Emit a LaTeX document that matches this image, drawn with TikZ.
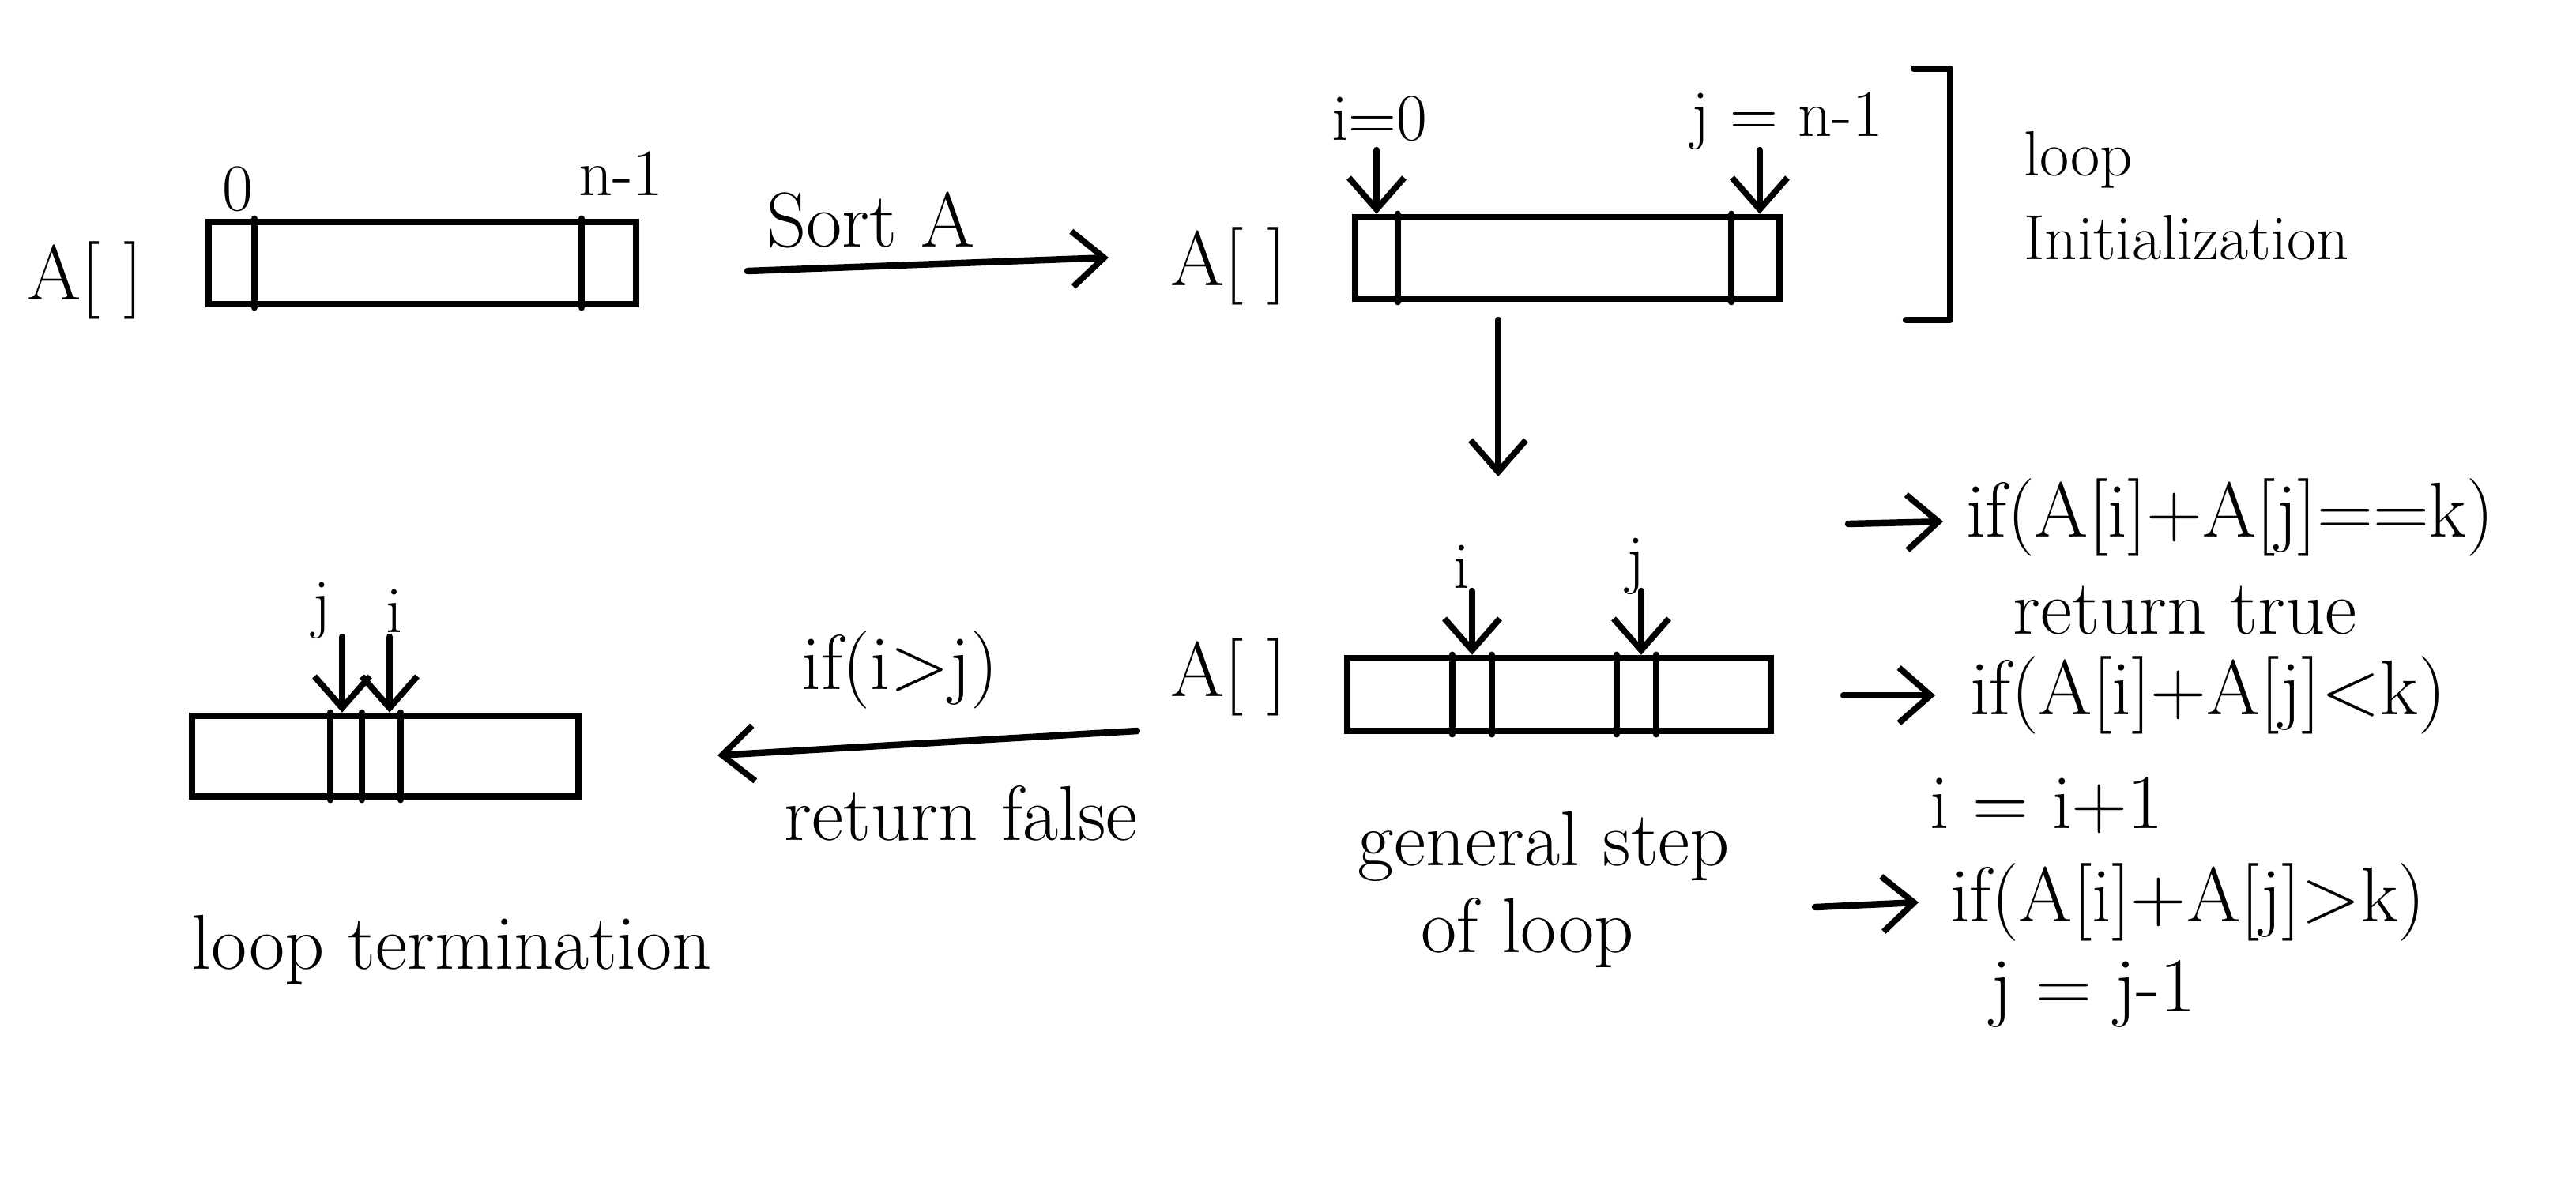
\documentclass[tikz,border=0pt]{standalone}
\usepackage{fontspec}
\usetikzlibrary{arrows.meta,calc}
\begin{document}
\begin{tikzpicture}[
  x=1cm,y=1cm,
  ink/.style={line width=2.4pt, line cap=round, line join=round},
  arrbox/.style={draw, line width=2.4pt, rectangle, inner sep=0pt},
  txt/.style={font=\fontsize{28}{34}\selectfont, inner sep=1pt},
  lbl/.style={font=\fontsize{24}{28}\selectfont, inner sep=1pt},
  small/.style={font=\fontsize{23}{27}\selectfont, inner sep=1pt},
  arr/.style={ink, -{Straight Barb[length=4mm,width=7mm,line width=2.2pt]}},
]
\useasboundingbox (0,0) rectangle (32.6,-15);

% ---------- array 1 ----------
\node[txt] (A1) at (1.08,-3.55) {A[\hspace{0.3em}]};
\node[arrbox, minimum width=5.41cm, minimum height=1.04cm] (a1) at (5.345,-3.33) {};
\draw[ink] ($(a1.north west)+(0.62,0)$) -- ($(a1.south west)+(0.62,0)$);
\draw[ink] ($(a1.north east)+(-0.73,0)$) -- ($(a1.south east)+(-0.73,0)$);
\node[lbl] (z0) at (3.01,-2.39) {0};
\node[lbl] (n1) at (7.86,-2.20) {n-1};

% ---------- sort arrow ----------
\node[txt] (A2) at (15.55,-3.37) {A[\hspace{0.3em}]};
\coordinate (s1) at (9.46,-3.43);
\coordinate (s2) at (14.03,-3.26);
\draw[arr] (s1) -- (s2);
\node[txt] (sortlbl) at (11.02,-2.78) {Sort A};

% ---------- array 2 ----------
\node[arrbox, minimum width=5.37cm, minimum height=1.03cm] (a2) at (19.835,-3.265) {};
\draw[ink] ($(a2.north west)+(0.58,0)$) -- ($(a2.south west)+(0.58,0)$);
\draw[ink] ($(a2.north east)+(-0.65,0)$) -- ($(a2.south east)+(-0.65,0)$);
\node[lbl] (i0) at (17.46,-1.50) {i=0};
\node[lbl] (jn) at (22.62,-1.53) {j = n-1};
\coordinate (pi0) at (17.42,-1.90);
\coordinate (pjn) at (22.27,-1.90);
\draw[arr] (pi0) -- (pi0 |- a2.north);
\draw[arr] (pjn) -- (pjn |- a2.north);

% bracket and label
\coordinate (b1) at (24.22,-0.87);
\coordinate (b2) at (24.68,-0.87);
\coordinate (b3) at (24.68,-4.05);
\coordinate (b4) at (24.12,-4.05);
\draw[ink] (b1) -- (b2) -- (b3) -- (b4);
\node[small, anchor=west] (loopl) at (25.57,-2.02) {loop};
\node[small, anchor=west] (initl) at (25.57,-3.01) {Initialization};

% down arrow
\coordinate (d1) at (18.96,-4.05);
\coordinate (d2) at (18.96,-6.03);
\draw[arr] (d1) -- (d2);

% ---------- array 3 (general step) ----------
\node[txt] (A3) at (15.55,-8.57) {A[\hspace{0.3em}]};
\node[arrbox, minimum width=5.36cm, minimum height=0.92cm] (a3) at (19.73,-8.79) {};
\foreach \o in {1.37,1.87,3.45,3.95}
  \draw[ink] ($(a3.north west)+(\o,0)$) -- ($(a3.south west)+(\o,0)$);
\node[lbl] (gi) at (18.50,-7.17) {i};
\node[lbl] (gj) at (20.70,-7.17) {j};
\coordinate (pgi) at (18.63,-7.48);
\coordinate (pgj) at (20.77,-7.48);
\draw[arr] (pgi) -- (pgi |- a3.north);
\draw[arr] (pgj) -- (pgj |- a3.north);
\node[txt] (gs1) at (19.54,-10.71) {general step};
\node[txt] (gs2) at (19.33,-11.81) {of loop};

% ---------- right side conditions ----------
\node[txt, anchor=west] (c1) at (24.84,-6.55) {if(A[i]+A[j]==k)};
\draw[arr] ([xshift=-1.45cm,yshift=-0.08cm]c1.west) -- ([xshift=-0.25cm,yshift=-0.05cm]c1.west);
\node[txt] (rt) at (27.65,-7.73) {return true};

\node[txt, anchor=west] (c2) at (24.89,-8.80) {if(A[i]+A[j]<k)};
\draw[arr] ([xshift=-1.56cm]c2.west) -- ([xshift=-0.40cm]c2.west);
\node[txt] (ii) at (25.90,-10.19) {i = i+1};

\node[txt, anchor=west] (c3) at (24.64,-11.42) {if(A[i]+A[j]>k)};
\draw[arr] ([xshift=-1.67cm,yshift=-0.06cm]c3.west) -- ([xshift=-0.36cm]c3.west);
\node[txt] (jj) at (26.49,-12.58) {j = j-1};

% ---------- termination ----------
\coordinate (l1) at (14.39,-9.25);
\coordinate (l2) at (9.08,-9.56);
\draw[arr] (l1) -- (l2);
\node[txt] (ifij) at (11.39,-8.48) {if(i>j)};
\node[txt] (rf) at (12.16,-10.29) {return false};

\node[arrbox, minimum width=4.89cm, minimum height=1.02cm] (a4) at (4.875,-9.57) {};
\foreach \o in {1.79,2.19,2.68}
  \draw[ink] ($(a4.north west)+(\o,0)$) -- ($(a4.south west)+(\o,0)$);
\node[lbl] (tj) at (4.07,-7.73) {j};
\node[lbl] (ti) at (4.99,-7.73) {i};
\coordinate (ptj) at (4.33,-8.06);
\coordinate (pti) at (4.93,-8.06);
\draw[arr] (ptj) -- (ptj |- a4.north);
\draw[arr] (pti) -- (pti |- a4.north);
\node[txt] (lt) at (5.72,-12.02) {loop termination};
\end{tikzpicture}
\end{document}
